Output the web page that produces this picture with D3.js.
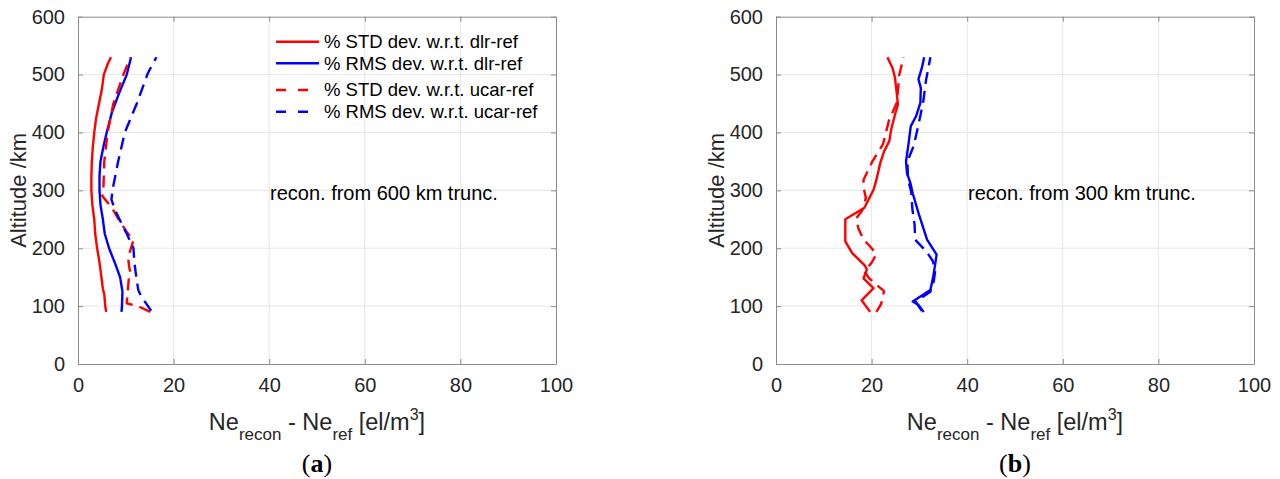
<!DOCTYPE html>
<html>
<head>
<meta charset="utf-8">
<script src="https://cdn.jsdelivr.net/npm/d3@7"></script>
<style>
  body { margin: 0; background: #fff; }
  svg text { font-family: "Liberation Sans", Arial, sans-serif; }
</style>
</head>
<body>
<div id="viz"></div>
<script>
// tick values
var xTicks = [0, 20, 40, 60, 80, 100];
var yTicks = [0, 100, 200, 300, 400, 500, 600];

// legend labels
var seriesNames = [
  "% STD dev. w.r.t. dlr-ref",
  "% RMS dev. w.r.t. dlr-ref",
  "% STD dev. w.r.t. ucar-ref",
  "% RMS dev. w.r.t. ucar-ref"
];

// panel (a): reconstructed from 600 km truncation
var stdDlrA_alt = [90, 100, 120, 130, 150, 175, 200, 225, 250, 275, 300, 325, 350, 375, 400, 425, 450, 475, 500, 520, 530];
var stdDlrA_val = [5.9, 5.7, 5.5, 5.2, 4.9, 4.5, 4.0, 3.6, 3.4, 3.0, 2.8, 2.8, 2.9, 3.1, 3.4, 3.8, 4.4, 5.0, 5.4, 6.3, 6.9];

var rmsDlrA_alt = [90, 100, 125, 150, 175, 200, 225, 250, 275, 300, 325, 350, 375, 400, 435, 470, 500, 530];
var rmsDlrA_val = [9.1, 9.2, 9.3, 8.8, 7.7, 6.5, 5.6, 5.2, 4.7, 4.5, 4.5, 4.7, 5.3, 6.0, 7.1, 8.7, 10.2, 11.1];

var stdUcarA_alt = [90, 99, 105, 125, 145, 160, 168, 182, 195, 214, 228, 251, 271, 290, 300, 350, 400, 450, 500, 529];
var stdUcarA_val = [15.1, 12.8, 10.2, 10.4, 10.6, 10.9, 10.7, 10.5, 10.9, 11.6, 10.2, 8.4, 7.0, 5.1, 5.3, 5.5, 6.2, 7.4, 9.5, 10.9];

var rmsUcarA_alt = [92, 116, 128, 150, 175, 200, 225, 248, 265, 284, 300, 350, 400, 450, 500, 507, 530];
var rmsUcarA_val = [15.3, 13.3, 12.6, 12.2, 11.8, 11.6, 10.2, 8.8, 7.8, 7.0, 7.2, 8.4, 9.8, 12.3, 14.5, 14.9, 16.4];

// panel (b): reconstructed from 300 km truncation
var stdDlrB_alt = [90, 110, 131, 148, 163, 170, 192, 212, 250, 270, 301, 318, 347, 367, 385, 405, 431, 448, 465, 494, 511, 530];
var stdDlrB_val = [19.7, 17.9, 20.4, 18.3, 19.0, 18.6, 15.9, 14.5, 14.5, 18.5, 20.4, 21.0, 21.8, 22.6, 23.7, 24.1, 24.9, 25.5, 25.3, 24.9, 24.4, 23.3];

var rmsDlrB_alt = [90, 102, 108, 128, 151, 189, 215, 261, 295, 313, 330, 350, 379, 411, 428, 451, 477, 492, 511, 530];
var rmsDlrB_val = [30.9, 29.8, 28.6, 32.3, 32.9, 33.6, 31.6, 29.8, 28.6, 28.1, 27.4, 27.2, 27.7, 28.2, 29.3, 30.2, 30.3, 29.8, 30.5, 31.0];

var stdUcarB_alt = [90, 104, 126, 135, 148, 160, 175, 190, 203, 215, 235, 252, 266, 287, 306, 318, 349, 380, 420, 452, 500, 530];
var stdUcarB_val = [21.0, 22.0, 22.6, 21.3, 19.5, 18.5, 20.0, 21.0, 19.7, 18.3, 17.2, 16.8, 18.1, 18.8, 18.3, 18.3, 20.1, 22.4, 23.6, 25.3, 25.8, 26.7];

var rmsUcarB_alt = [92, 108, 125, 143, 161, 178, 194, 215, 240, 270, 297, 320, 350, 377, 413, 453, 491, 530];
var rmsUcarB_val = [30.5, 29.2, 32.3, 33.0, 33.3, 32.8, 31.5, 29.1, 29.0, 28.5, 28.3, 27.6, 27.5, 28.8, 29.8, 30.8, 31.4, 32.3];

var colors = ["#ff0000", "#0000ff", "#ff0000", "#0000ff"];
var dashes = [null, null, "12,7", "12,7"];

var svg = d3.select("#viz")
  .append("svg")
  .attr("width", 1280)
  .attr("height", 479);

function zip(alt, val) {
  return alt.map((a, i) => ({alt: a, val: val[i]}));
}

function drawPanel(left, series, note, tag, showLegend) {
  var top = 16.7, width = 478, height = 347.3;
  var g = svg.append("g").attr("transform", "translate(" + left + "," + top + ")");

  var x = d3.scaleLinear().domain([0, 100]).range([0, width]);
  var y = d3.scaleLinear().domain([0, 600]).range([height, 0]);

  // 网格
  g.append("g").selectAll("line.gx")
    .data(xTicks.slice(1, -1)).enter().append("line")
    .attr("x1", d => x(d)).attr("x2", d => x(d))
    .attr("y1", 0).attr("y2", height)
    .attr("stroke", "#e6e6e6").attr("stroke-width", 1);
  g.append("g").selectAll("line.gy")
    .data(yTicks.slice(1, -1)).enter().append("line")
    .attr("x1", 0).attr("x2", width)
    .attr("y1", d => y(d)).attr("y2", d => y(d))
    .attr("stroke", "#e6e6e6").attr("stroke-width", 1);

  // 曲线
  var line = d3.line().x(d => x(d.val)).y(d => y(d.alt));
  series.forEach(function (s, i) {
    g.append("path")
      .datum(s)
      .attr("fill", "none")
      .attr("stroke", colors[i])
      .attr("stroke-width", 2.4)
      .attr("stroke-linejoin", "round")
      .attr("stroke-dasharray", dashes[i])
      .attr("d", line);
  });

  // 坐标轴 (ticks inside, box on)
  var axisColor = "#8c8c8c";
  var xb = g.append("g").attr("transform", "translate(0," + height + ")")
    .call(d3.axisBottom(x).tickValues(xTicks).tickSizeInner(-5).tickSizeOuter(0).tickPadding(14));
  var xt = g.append("g")
    .call(d3.axisTop(x).tickValues(xTicks).tickSizeInner(-5).tickSizeOuter(0).tickFormat(""));
  var yl = g.append("g")
    .call(d3.axisLeft(y).tickValues(yTicks).tickSizeInner(-5).tickSizeOuter(0).tickPadding(13));
  var yr = g.append("g").attr("transform", "translate(" + width + ",0)")
    .call(d3.axisRight(y).tickValues(yTicks).tickSizeInner(-5).tickSizeOuter(0).tickFormat(""));
  [xb, xt, yl, yr].forEach(function (a) {
    a.selectAll("path").attr("stroke", axisColor);
    a.selectAll("line").attr("stroke", axisColor);
    a.selectAll("text")
      .attr("fill", "#262626")
      .style("font-size", "20px")
      .style("font-family", "'Liberation Sans', Arial, sans-serif");
  });

  // 轴标题
  g.append("text")
    .attr("transform", "translate(" + (-52) + "," + (height / 2) + ") rotate(-90)")
    .attr("text-anchor", "middle")
    .attr("fill", "#262626")
    .style("font-size", "22px")
    .text("Altitude /km");

  var xl = g.append("text")
    .attr("x", width / 2)
    .attr("y", 430 - top)
    .attr("text-anchor", "middle")
    .attr("fill", "#262626")
    .style("font-size", "23.5px");
  xl.append("tspan").text("Ne");
  xl.append("tspan").attr("dy", 10).style("font-size", "17px").text("recon");
  xl.append("tspan").attr("dy", -10).text(" - Ne");
  xl.append("tspan").attr("dy", 10).style("font-size", "17px").text("ref");
  xl.append("tspan").attr("dy", -10).text(" [el/m");
  xl.append("tspan").attr("dy", -10).style("font-size", "16px").text("3");
  xl.append("tspan").attr("dy", 10).text("]");

  // 子图编号
  var lab = g.append("text")
    .attr("x", width / 2)
    .attr("y", 472 - top)
    .attr("text-anchor", "middle")
    .attr("fill", "#000")
    .style("font-family", "'Liberation Serif', 'DejaVu Serif', serif")
    .style("font-size", "26px");
  lab.append("tspan").text("(");
  lab.append("tspan").style("font-weight", "bold").text(tag);
  lab.append("tspan").text(")");

  // 注释
  g.append("text")
    .attr("x", 192)
    .attr("y", 200 - top)
    .attr("fill", "#000")
    .style("font-size", "20px")
    .text(note);

  // 图例
  if (showLegend) {
    var rowsY = [41.7, 63.3, 90, 111.7];
    var legend = g.selectAll(".legend")
      .data(seriesNames)
      .enter().append("g")
      .attr("transform", (d, i) => "translate(0," + (rowsY[i] - top) + ")");
    legend.append("line")
      .attr("x1", 198).attr("x2", 241)
      .attr("y1", 0).attr("y2", 0)
      .attr("stroke", (d, i) => colors[i])
      .attr("stroke-width", 2.4)
      .attr("stroke-dasharray", (d, i) => dashes[i] ? "10,12" : null);
    legend.append("text")
      .attr("x", 246)
      .attr("y", 0)
      .attr("dy", ".35em")
      .attr("fill", "#000")
      .style("font-size", "18.5px")
      .text(d => d);
  }
}

drawPanel(78, [
  zip(stdDlrA_alt, stdDlrA_val),
  zip(rmsDlrA_alt, rmsDlrA_val),
  zip(stdUcarA_alt, stdUcarA_val),
  zip(rmsUcarA_alt, rmsUcarA_val)
], "recon. from 600 km trunc.", "a", true);

drawPanel(776, [
  zip(stdDlrB_alt, stdDlrB_val),
  zip(rmsDlrB_alt, rmsDlrB_val),
  zip(stdUcarB_alt, stdUcarB_val),
  zip(rmsUcarB_alt, rmsUcarB_val)
], "recon. from 300 km trunc.", "b", false);
</script>
</body>
</html>
